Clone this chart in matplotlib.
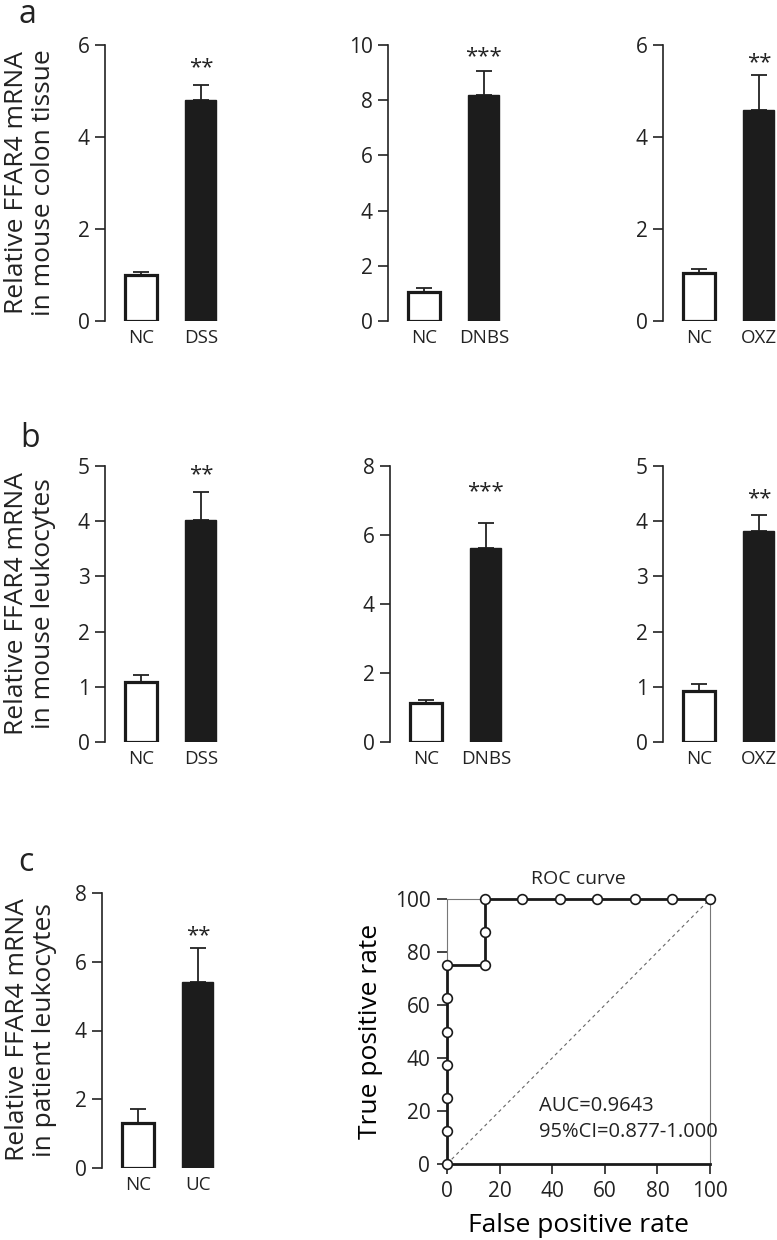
import matplotlib
matplotlib.use("Agg")
import matplotlib.pyplot as plt

plt.rcParams['font.family'] = ['Open Sans', 'DejaVu Sans']
plt.rcParams['text.color'] = '#222222'
plt.rcParams['xtick.color'] = '#222222'
plt.rcParams['ytick.color'] = '#222222'

# data
a_ymax = [6, 10, 6]
a_nc = [1.0, 1.05, 1.05]
a_nc_err = [0.06, 0.15, 0.09]
a_trt = [4.8, 8.2, 4.58]
a_trt_err = [0.32, 0.87, 0.76]
a_names = ['DSS', 'DNBS', 'OXZ']
a_stars = ['**', '***', '**']
a_star_y = [5.28, 9.2, 5.38]

b_ymax = [5, 8, 5]
b_nc = [1.08, 1.13, 0.93]
b_nc_err = [0.13, 0.1, 0.12]
b_trt = [4.02, 5.62, 3.82]
b_trt_err = [0.5, 0.72, 0.3]
b_names = ['DSS', 'DNBS', 'OXZ']
b_stars = ['**', '***', '**']
b_star_y = [4.65, 6.95, 4.22]

c_nc, c_nc_err = 1.31, 0.42
c_uc, c_uc_err = 5.41, 1.0
c_star_y = 6.46

fpr = [0, 0, 0, 0, 0, 0, 0, 14.3, 14.3, 14.3, 28.6, 42.9, 57.1, 71.4, 85.7, 100]
tpr = [0, 12.5, 25, 37.5, 50, 62.5, 75, 75, 87.5, 100, 100, 100, 100, 100, 100, 100]

W, H = 777, 1240
fig = plt.figure(figsize=(W / 100, H / 100), dpi=100)


def px_axes(left, top, right, bottom):
    return fig.add_axes([left / W, 1 - bottom / H, (right - left) / W, (bottom - top) / H])


def bar_panel(ax, nc, nc_err, trt, trt_err, name, star, star_y, ymax):
    ax.bar(0, nc, width=0.52, color='white', edgecolor='#1a1a1a', linewidth=2.3, zorder=3)
    ax.bar(1, trt, width=0.52, color='#1c1c1c', edgecolor='#1c1c1c', linewidth=1, zorder=3)
    ax.errorbar([0, 1], [nc, trt], yerr=[[0, 0], [nc_err, trt_err]], fmt='none',
                ecolor='#222222', elinewidth=1.3, capsize=5.5, capthick=1.3, zorder=2)
    ax.text(1, star_y, star, ha='center', va='bottom', fontsize=16, clip_on=False)
    ax.set_xlim(-0.6, 1.32)
    ax.set_ylim(0, ymax)
    step = 1 if ymax == 5 else 2
    ax.set_yticks(range(0, ymax + 1, step))
    ax.set_xticks([0, 1])
    ax.set_xticklabels(['NC', name], fontsize=13.5)
    ax.tick_params(axis='x', length=0, pad=6)
    ax.tick_params(axis='y', length=7, width=1.2, labelsize=15, pad=4)
    for s in ['top', 'right', 'bottom']:
        ax.spines[s].set_visible(False)
    ax.spines['left'].set_linewidth(1.2)
    ax.spines['left'].set_color('#222222')


lefts_a = [105, 388, 663]
for i in range(3):
    ax = px_axes(lefts_a[i], 45, lefts_a[i] + 115, 321)
    bar_panel(ax, a_nc[i], a_nc_err[i], a_trt[i], a_trt_err[i], a_names[i], a_stars[i], a_star_y[i], a_ymax[i])

lefts_b = [105, 390, 663]
for i in range(3):
    ax = px_axes(lefts_b[i], 466, lefts_b[i] + 115, 742)
    bar_panel(ax, b_nc[i], b_nc_err[i], b_trt[i], b_trt_err[i], b_names[i], b_stars[i], b_star_y[i], b_ymax[i])

ax = px_axes(102, 893, 217, 1168)
bar_panel(ax, c_nc, c_nc_err, c_uc, c_uc_err, 'UC', '**', c_star_y, 8)

# ROC
ax = px_axes(447, 899, 710, 1164)
ax.plot([0, 100], [0, 100], ls=(0, (3, 3)), color='#666666', lw=0.8, zorder=1)
ax.plot(fpr, tpr, color='#1a1a1a', lw=2.0, marker='o', markersize=7,
        markerfacecolor='white', markeredgecolor='#1a1a1a', markeredgewidth=1.2,
        clip_on=False, zorder=4)
ax.set_xlim(0, 100)
ax.set_ylim(0, 100)
ax.set_xticks(range(0, 101, 20))
ax.set_yticks(range(0, 101, 20))
ax.tick_params(length=7, width=1.2, labelsize=15, pad=5)
for s in ['top', 'right', 'left']:
    ax.spines[s].set_linewidth(0.8)
    ax.spines[s].set_color('#777777')
ax.spines['bottom'].set_linewidth(2.0)
ax.spines['bottom'].set_color('#1a1a1a')
ax.text(50, 104, 'ROC curve', ha='center', va='bottom', fontsize=14)
ax.text(35, 22, 'AUC=0.9643', ha='left', va='center', fontsize=14.5)
ax.text(35, 12, '95%CI=0.877-1.000', ha='left', va='center', fontsize=14.5)
ax.set_xlabel('False positive rate', fontsize=19, labelpad=8)
ax.set_ylabel('True positive rate', fontsize=19, labelpad=8)

# row y labels
fig.text(30 / W, 1 - 183 / H, 'Relative FFAR4 mRNA\nin mouse colon tissue', rotation=90,
         ha='center', va='center', fontsize=19, linespacing=1.1)
fig.text(30 / W, 1 - 604 / H, 'Relative FFAR4 mRNA\nin mouse leukocytes', rotation=90,
         ha='center', va='center', fontsize=19, linespacing=1.1)
fig.text(31 / W, 1 - 1030 / H, 'Relative FFAR4 mRNA\nin patient leukocytes', rotation=90,
         ha='center', va='center', fontsize=19, linespacing=1.1)

# panel letters
fig.text(18 / W, 1 - 23 / H, 'a', fontsize=23, ha='left', va='baseline')
fig.text(20 / W, 1 - 447 / H, 'b', fontsize=23, ha='left', va='baseline')
fig.text(18 / W, 1 - 871 / H, 'c', fontsize=23, ha='left', va='baseline')

fig.savefig('out.png', dpi=100)
